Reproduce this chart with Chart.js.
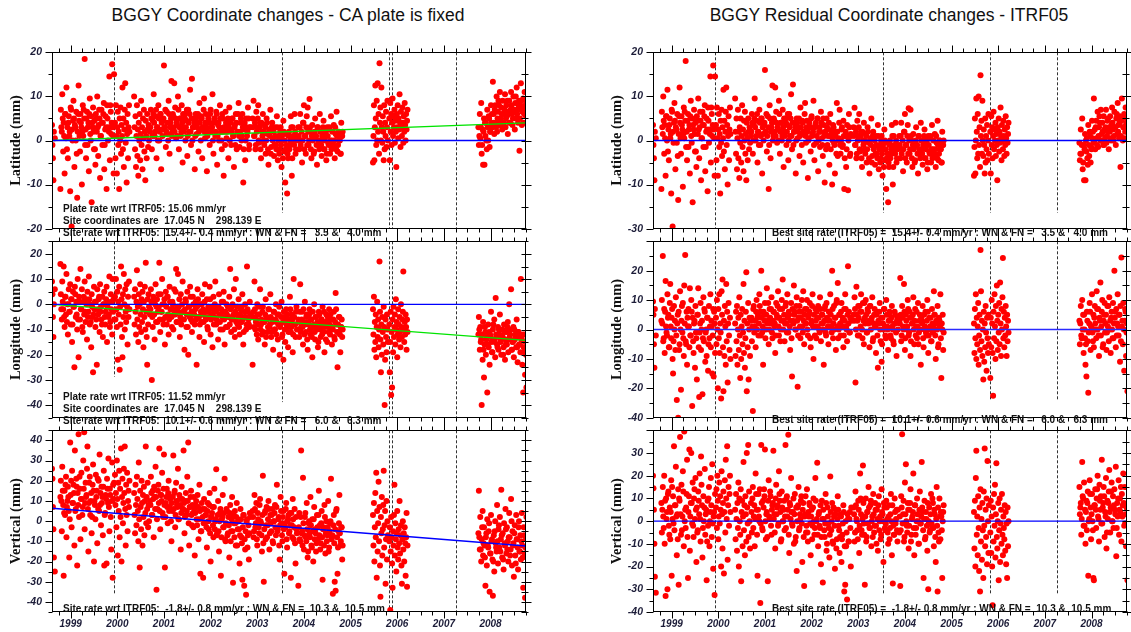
<!DOCTYPE html>
<html>
<head>
<meta charset="utf-8">
<script src="https://cdn.jsdelivr.net/npm/chart.js@4.4.1/dist/chart.umd.min.js"></script>
<style>
body{margin:0;background:#fff;width:1131px;height:632px;overflow:hidden;position:relative}
.ttl{position:absolute;top:5px;line-height:20px;font:17.5px "Liberation Sans",Arial,sans-serif;color:#111;white-space:nowrap;transform:translateX(-50%)}
</style>
</head>
<body>
<div class="ttl" style="left:288px">BGGY Coordinate changes - CA plate is fixed</div>
<div class="ttl" style="left:889px">BGGY Residual Coordinate changes - ITRF05</div>
<script>
// epochs in hundredths of a year after 1998.0, one array per block of days
var epochs = [
  [60,61,62,63,64,66],
  [78,79,81,82,84,85,87,88,90,91,93,94,96,
   97,99,100,102,103,105,106,108,109,111,112,114,115,
   117,118,120,121,123,124,126,127,129,130,132,133,135,
   136,138,139,141,142,144,145,147,148,150,151,153,154,
   156,157,159,160,162,163,165,166,168,169,171,172,174,
   175,177,178,180,181,183,184,186,187,189,190,192,193],
  [195,196,197,198,199,200,201,202,203,204,205,206,207,208,209,210,
   211,212,213,214,215,216,217,218,219,220,221,222,223,224,225,226],
  [236,237,238,239,240,241,242,243,244,245,246,
   247,248,249,250,251,252,253,254,255,256,257,
   258,259,260,261,262,263,264,265,266,267,268],
  [270,272,274,276,278,280,282,284,286,288,290,292,
   294,296,298,300,302,304,306,308,310,312,314,316,
   318,320,322,324,326,328,330,332,334,336,338,340,
   342,344,346,348,350,352,354,356,358,360,362,364,
   366,368,370,372,374,376,378,380,382,384,386,388,
   390,392,394,396,398,400,402,404,406,408,410,412,
   414,416,418,420,422,424,426,428,430,432,434,436,
   438,440,442,444,446,448,450,452,454,456,458,460,
   462,464,466,468,470,472,474,476,478,480,482,484],
  [490,492,494,496,498,500,502,504,506,508,510,512,
   514,516,518,520,522,524,526,528,530,532,534,536,
   538,540,542,544,546,548,550,552,554,556,558,560,
   562,564,566,568,570,572,574,576,578,580,582,584],
  [588,590,592,594,596,598,600,602,604,606,608,610,
   612,614,616,618,620,622,624,626,628,630,632,634,
   636,638,640,642,644,646,648,650,652,654,656,658,
   660,662,664,666,668,670,672,674,676,678,680,682],
  [748,749,750,751,752,753,754,755,756,757,758,
   759,760,761,762,763,764,765,766,767,768,769,
   770,771,772,773,774,775,776,777,778,779,780],
  [783,784,785,786,787,788,789,790,791,792,
   793,794,795,796,797,798,799,800,801,802,
   803,804,805,806,807,808,809,810,811,812,
   813,814,815,816,817,818,819,820,821,822],
  [974,975,977,978,980,981,983,984,986,987,
   989,990,992,993,995,996,998,999,1001,1002,
   1004,1005,1007,1008,1010,1011,1013,1014,1016,1017,
   1019,1020,1022,1023,1025,1026,1028,1029,1031,1032,
   1034,1035,1037,1038,1040,1041,1043,1044,1046,1047,
   1049,1050,1052,1053,1055,1056,1058,1059,1061,1062,
   1064,1065,1067,1068,1070,1071,1073,1074,1076,1077],
  [80,83,86,89,92,95,98,101,104,107,110,113,116,119,122,125,128,131,134,
   137,140,143,146,149,152,155,158,161,164,167,170,173,176,179,182,185,188,191],
  [271,273,275,277,279,281,283,285,287,289,291,293,
   295,297,299,301,303,305,307,309,311,313,315,317,
   319,321,323,325,327,329,331,333,335,337,339,341,
   343,345,347,349,351,353,355,357,359,361,363,365,
   367,369,371,373,375,377,379,381,383,385,387,389,
   391,393,395,397,399,401,403,405,407,409,411,413,
   415,417,419,421,423,425,427,429,431,433,435,437,
   439,441,443,445,447,449,451,453,455,457,459,461,
   463,465,467,469,471,473,475,477,479,481,483,485],
  [491,493,495,497,499,501,503,505,507,509,511,513,
   515,517,519,521,523,525,527,529,531,533,535,537,
   539,541,543,545,547,549,551,553,555,557,559,561,
   563,565,567,569,571,573,575,577,579,581,583,585],
  [589,591,593,595,597,599,601,603,605,607,609,611,
   613,615,617,619,621,623,625,627,629,631,633,635,
   637,639,641,643,645,647,649,651,653,655,657,659,
   661,663,665,667,669,671,673,675,677,679,681,683],
  [976,979,982,985,988,991,994,997,1000,1003,1006,1009,1012,1015,1018,1021,1024,
   1027,1030,1033,1036,1039,1042,1045,1048,1051,1054,1057,1060,1063,1066,1069,1072,1075]
];

// CA plate fixed (left column), mm
var latFixed = [
  [3.5,-1,-4,-9,2,0.5],
  [-11,7,2,10.5,-2.5,4,-7.5,6,0.5,12,3,-4,5.5,
   1,-11.5,7.5,-19.5,2.5,4.5,9,-6,3.5,0,6.5,-13,2,
   12.5,4.5,-2.5,6,3,-10,8,1,5,18.5,2.5,-4,6.5,
   -1,4,-7,9.5,1.5,5.5,-14,3,7.5,-2,4.5,-5.5,6,
   2,10,-3.5,3.5,5,-8.5,1,7,-1,4,8.5,-6.5,2.5,
   5.5,-11,8,0,3,14.5,-4.5,6.5,1.5,17.3,3,-7.5,15],
  [4,-4,8,1,-7.5,3,6.5,-1,2,-11,5,0,7.5,-3,3.5,1,
   12,-2,5,-6,2.5,7,13,-0.5,4,-9.5,1.5,6,-4,3,8,2],
  [10,3,-2,5.5,-6,1,8,-3.5,2.5,-8,4,
   0,6,-4.5,1.5,9,-1,3,-6.5,5,0.5,7,
   -2.5,2,-9,4.5,1,-4,6,2.5,-1.5,3.5,0],
  [2,7,-2,4.5,10.5,1,5.5,-4,3,8,0,6,
   -6.5,2.5,4.5,17,3,-1.5,6.5,1.5,9,-3,4,13.5,
   2,5.5,13,7.5,0.5,3.5,10,-2,5,1,8,-5,
   3,6,0,4.5,-3.5,7,2,11.5,-1,14,3,5,
   -6.5,6,1.5,4,-2.5,8.5,2.5,5.5,-4,3,9.5,0.5,
   6,-7,2,4.5,-1,7,3,10.5,-3,5,1,6.5,
   -5.5,3.5,0,8,2,-2,5,-8,3,6.5,0.5,4,
   -4,7.5,2.5,-1,5,1,-6,3.5,6,-2,2,8.5,
   -1.5,4,0,6,-9.5,2.5,-4.5,5,1,7.5,-2,3],
  [5,9,1,-2,6.5,3,8,-0.5,4,-4,2,6,
   0,3.5,-3,5,1.5,-5.5,2.5,7,-1.5,4,0.5,-3.5,
   3,-1,5.5,-4.5,1,-2,3,-6,0,4.5,-2.5,-9.5,
   1.5,-12,-4,2,-1,5.5,-8,3,0,6,-3,1],
  [3,-2,6,0,-5,4,8,1,-3,5.5,7.5,-1,
   9.4,2,-4,3.5,0.5,-2.5,5,1,-5.5,3,-1,6,
   0,-3.5,2,4.5,-2,1,-4.5,3,-0.5,2.5,-3,5.5,
   0,-1.5,3.5,-4,1.5,6.5,-2.5,2,0,-3,4,1],
  [-5,1,8,-4.5,3,12.5,5,-1,9,0,13,
   2,6,-3,17.5,4,7.5,0,12,3,-0.5,5.5,
   2,-4.5,8,-2,4,1,6.5,-1.5,3,9,0],
  [5,-4.5,8.5,2,6,-1,4,9.5,1,5.5,
   3,7,-0.5,4.5,2,-6,6,3,8,0.5,
   5,2.5,10.5,4,-1.5,6.5,3,1,7.5,4,
   -0.5,5.5,2,8.5,3.5,0,6,2.5,4.5,7],
  [3,-1,6,0.5,8.5,-3,2.5,-5.5,5,-5.5,
   1,4,-2,7,0,5.5,-1.5,2,8,4,
   3,13.3,6,1.5,8,4,10,2,6.5,9,
   3.5,11,5,7.5,2.5,9,6,4,10.5,3,
   8,5.5,1.5,6.5,9,4,7,11,6,3.5,
   10,6.5,2.5,8.5,5,12,7,4,9,-2.3,
   8,13,3.5,6.5,9.5,4,11,7,5.5,8.5],
  [3,5,1,6,-2,4,2,7,0,5,3,-3,6,1,4,2,7,-1,5,3,6,0,4,2,-2,5,3,7,1,4,6,-1,3,5,2,8,4,1],
  [3,5,1,6,4,2,7,3,0,5,2,6,
   4,1,5,3,7,2,4,0,6,3,5,1,
   6,3,2,5,4,1,7,3,5,2,4,6,
   2,5,3,7,1,4,6,2,5,0,3,4,
   1,5,3,6,2,4,0,5,3,7,2,4,
   3,1,5,4,6,2,3,0,4,5,2,6,
   1,4,3,5,0,6,2,3,-1,4,2,5,
   3,0,4,2,5,1,3,-1,4,2,6,1,
   2,5,1,3,-2,4,0,3,2,5,-1,3],
  [3,1,4,-1,2,5,0,3,-2,4,1,2,
   -1,3,0,4,-2,2,1,-3,3,0,2,-1,
   1,-2,3,0,-3,2,-1,1,-4,2,0,-2,
   -1,-3,1,-2,0,3,-4,1,-1,2,-2,0],
  [1,3,-1,2,0,4,-2,1,3,-1,2,0,
   3,-2,1,0,-3,2,1,-1,3,0,-2,2,
   -1,1,3,-2,0,2,-3,1,-1,3,0,-2,
   2,-1,0,3,-2,1,-1,2,0,-3,1,2],
  [1,3,-1,2,4,0,3,5,2,6,4,7,3,5,8,4,6,3,7,5,9,6,4,8,5,7,10,6,8,5,9,7,6,8]
];

var lonFixed = [
  [9,4,-5,-13,0,6],
  [16,4,-6,9,-2,15,-9,3,-4,12,0,-12,6,
   -3,8,-8,2,-15,5,-1,-25,7,-5,1,-10,10,
   -21,3,-6,14,-2,6,-11,1,-4,9,-7,2,-14,
   5,-3,11,-8,0,-17,4,-5,-27,7,-2,-9,1,
   -24,6,-4,2,-11,8,-1,-6,3,-13,0,5,-8,
   -3,7,-15,1,-5,11,-9,4,-2,-12,10,2,-6],
  [3,-6,10,-2,-9,5,-22,1,-4,7,-26,-1,-8,15,2,-13,
   -21,4,-5,12,0,-10,6,-3,-7,8,-1,-16,3,-5,9,-2],
  [3,-8,6,-3,-12,1,13.5,-6,-1,-15,4,
   -9,0,8,-4,-11,2,-7,5,-2,-17,1,
   -5,7,-10,16.5,-3,-13,-24,2,-8,4,-1],
  [-4,6,-30,-9,2,-14,8,-1,-7,4,16.5,-11,
   -3,10,-6,0,-16,5,-8,3,-12,7,-2,-5,
   1,-10,6,-4,14,-7,12,-1,-13,4,-6,9,
   -3,-18,2,-9,5,-20,-1,7,-6,-11,3,-4,
   -8,1,-24,6,-5,-13,0,-7,4,-2,-15,8,
   -6,2,-10,-3,7,-12,-1,-17,3,-5,9,-8,
   -2,-14,4,-7,-4,1,-10,5,-16,-3,0,-9,
   -5,3,14,-11,-1,-6,6,-13,10,-4,-8,2,
   -12,-2,-7,4,-16,-5,0,-10,15,-3,-8,1],
  [-24,-3,9,-10,-6,0,-14,-4,6,-8,-12,-1,
   -7,-16,2,-5,-11,-2,-9,4,-13,-6,-18,-3,
   -10,0,-7,-14,-4,-20,-8,1,-12,-22,-5,-15,
   -2,-9,-17,-6,3,-11,-4,-19,10,-8,-13,-1],
  [-6,-13,8,-9,-3,-16,-7,1,-11,-4,-18,-8,
   -2,-12,-6,-21,-9,0,-14,-5,-10,-17,-3,-8,
   -13,-6,-1,-11,-19,-7,-4,-15,-9,-2,-12,-6,
   -16,-10,-3,-14,4.5,-8,-25,-11,-5,-19,-9,-13],
  [-2,-12,3,-18,-7,-15,-4,-21,-9,1,-13,
   -6,-17,-10,17,-3,-14,-27,-8,-20,-5,-11,
   -16,-1,-9,-40,-22,-6,-13,-19,-4,-10,-15],
  [-8,-27,-15,-3,-36,-11,-33,-6,-19,-1,
   -13,-9,-4,-16,2,-10,-7,-21,-12,-2,
   -8,-14,-5,-11,-17,0,-9,-13,-6,-3,
   13,-10,-15,-7,-12,-4,-9,-18,-6,-11],
  [-12,-5,-18,-9,-14,-40,-22,-7,-29,-16,
   -11,-20,-13,-35,-8,-17,-24,-12,-3,-15,
   -19,-10,-14,-6,-21,2.5,-13,-16,-9,-18,
   -12,-4,-15,-20,-10,-13,-17,-8,-22,-14,
   -11,-16,-7,-19,0,-13,-10,6,-18,-15,
   -9,-21,-14,-12,-17,-6,-23,-11,-16,-13,
   -19,10,-14,-24,-35,-17,-12,-28,-20,-33],
  [-2,1,-5,3,-7,0,-3,2,-8,-1,4,-4,-6,1,-2,-9,3,-3,0,-5,2,-7,-1,-4,1,-6,-2,3,-3,-8,0,-5,2,-1,-4,-7,1,-3],
  [-2,1,-5,3,-4,0,-7,2,-3,-1,-6,4,
   -3,0,-8,2,-5,-1,3,-4,-6,1,-2,-9,
   0,-4,-2,5,-7,-1,-3,2,-5,-8,0,-3,
   -6,-2,1,-4,-9,-1,-5,3,-3,-7,0,-4,
   -2,-6,-1,2,-5,-8,-3,0,-4,-7,1,-5,
   -3,-9,-1,-5,2,-6,-4,-2,-8,0,-3,-6,
   -7,-1,-4,-10,-2,-5,1,-6,-3,-9,-4,-1,
   -5,-8,-2,-6,0,-4,-10,-3,-7,-1,-5,-9,
   -4,-7,-1,-6,-11,-3,-5,-8,-2,-6,-9,-4],
  [-5,-9,-2,-7,-12,-4,-8,-1,-10,-6,-3,-11,
   -7,-4,-13,-6,-9,-2,-8,-5,-11,-7,-3,-10,
   -6,-12,-4,-8,-1,-9,-5,-13,-7,-3,-10,-6,
   -8,-4,-11,-7,-2,-9,-6,-12,-5,-8,-3,-10],
  [-7,-3,-11,-6,-9,-2,-12,-8,-5,-14,-7,-4,
   -10,-6,-13,-3,-8,-11,-5,-9,-7,-15,-4,-10,
   -6,-12,-8,-3,-9,-14,-7,-5,-11,-8,-4,-10,
   -9,-6,-13,-7,-2,-11,-8,-5,-12,-9,-6,-10],
  [-10,-15,-12,-18,-9,-14,-16,-11,-13,-19,-8,-15,-12,-17,-10,-14,-13,-20,-11,-16,-9,-14,-12,-18,-15,-10,-13,-17,-11,-16,-14,-12,-19,-15]
];

var upFixed = [
  [26,21,7,-4,-18,-25],
  [12,20,-5,27,8,-27,15,3,22,-8,10,17,5,
   -18,39,13,-3,25,9,18,-12,35,6,21,-22,14,
   43,2,16,-9,24,11,7,30,44,-4,19,12,26,
   37,-15,9,22,3,14,-6,18,28,-20,10,1,23,
   15,-11,6,20,33,8,-2,17,12,-7,25,-22,4,
   13,-21,21,9,31,-5,16,2,-14,29,-28,11,19],
  [23,8,14,-3,30,11,-17,19,5,25,-8,16,2,36,-20,12,
   21,-1,9,26,14,37,6,-12,18,3,24,-5,10,15,7,20],
  [14,3,-6,18,8,-2,22,11,5,-10,29,
   1,-23,15,7,-4,20,9,-12,13,2,17,
   -7,10,4,37,-1,12,6,19,-3,8,0],
  [10,22,3,15,-8,12,27,-34,6,18,36,-4,
   13,24,2,33,-23,9,16,-1,20,7,12,-10,
   5,32.5,14,-3,19,8,26,1,11,-14,17,6,
   35,-6,10,3,22,39,-12,7,15,-2,4,12,
   -17,8,1,13,-9,18,-26,-5,6,-28,11,-1,
   3,-13,9,-4,14,-20,2,7,-8,16,0,25.7,
   -6,10,-15,4,-27,1,13,-3,21,-10,6,-7,
   2,-18,8,-5,12,-30.5,-1,5,-12,9,-4,0,
   -21,6,-8,-29,3,-32,-14,-36.5,1,-7,-19,4],
  [5,-8,13,-3,9,-12,1,-6,11,-1,-15,22.5,
   -30,4,-9,7,-2,10,-14,3,-5,6,-11,0,
   8,-7,18,-4,2,-19,12,-1,-10,5,-26,-3,
   9,-13,1,-6,4,-28,-2,11,-9,6,-21,-4],
  [-32,4,-10,35,-5,21.5,-14,2,-8,9,-18,-1,
   -6,12,-12,1,-20,7,-4,-15,3,-9,15,-2,
   -11,5,-29,-3,8,-16,0,-7,10,-13,-1,21,
   -8,-36,3,-30,-34.5,6,-26,-5,13,-12,-3,-19],
  [3,-12,9,-20,-3,14,-8,24,-28,5,-15,
   -1,19.5,-10,7,-22,-37.5,2,-6,12,-17,-4,
   8,25,-13,-2,5,-31,-9,10,-19,0,-7],
  [-10,-3,-44,-15,2,-8,-21,-33,-5,-12,
   3,18,-17,-1,-9,-25,-6,5,-13,-19,
   -4,-11,10,-16,-7,-2,-22,-31,-9,0,
   -14,-6,-20,-3,-11,-27,-8,4,-32.5,-12],
  [-6,15,-14,2,-20,-9,5,-17,-3,-12,
   -32,-8,-22,1,-13,-5,-35,-16,3,-10,
   -19,-37,-7,-25,0,-11,-15,8,-21,-4,
   -13,2,-9,15.5,-18,-6,-24,-1,-12,6,
   -16,-3,-10,-20,4,-8,-14,11,-22,-5,
   -11,-27.5,-2,-17,3,-9,-13,-24,0,-15,
   -7,-19,4,-12,-33,-3,-16,-38,-9,2],
  [10,15,4,18,7,12,1,20,9,14,5,17,8,22,11,3,16,9,13,6,19,10,2,15,8,12,21,5,14,9,17,3,11,16,7,13,10,18],
  [8,14,3,11,17,6,12,1,15,9,5,13,
   10,4,16,8,2,12,7,14,5,11,0,9,
   12,6,15,3,10,7,1,13,8,4,11,6,
   9,2,14,5,10,-1,7,12,3,8,-3,6,
   4,10,-2,7,1,5,-5,9,2,-1,6,3,
   -3,5,0,8,-6,2,4,-2,7,-4,1,-7,
   3,-5,0,6,-8,2,-3,4,-9,-1,5,-6,
   -2,4,-10,1,-5,3,-8,-1,2,-12,0,-4,
   -7,1,-11,-3,3,-9,-5,0,-13,-2,-6,2],
  [2,-5,6,-1,-9,4,-3,8,0,-7,3,-11,
   -4,5,-2,-8,1,6,-6,-1,3,-10,0,4,
   -3,7,-5,1,-12,-2,5,-7,2,-4,-1,6,
   -9,0,3,-5,-2,4,-8,1,-3,-11,2,-6],
  [-3,-9,2,-6,-12,-1,-7,4,-10,-4,-15,0,
   -8,-2,-13,-5,1,-9,-6,-11,-3,3,-7,-14,
   -1,-8,-4,-12,2,-6,-10,-3,-15,-5,0,-9,
   -7,-2,-11,-4,5,-8,-13,-1,-6,-10,-3,-12],
  [-8,-14,-3,-11,-18,-6,-12,-1,-16,-9,-20,-5,-13,-10,-2,-15,-7,-19,-11,-4,-14,-8,-17,0,-12,-6,-21,-9,-3,-15,-10,-18,-7,-13]
];

// residuals w.r.t. ITRF05 (right column), mm
var latResid = [
  [3.5,-1,-4,-9,2,0.5],
  [-11,6.5,1.5,10,-3,3.5,-8,5.5,0,11.5,2.5,-4.5,5,
   0.5,-12,7,-19.5,2,4,8.5,-6.5,3,-0.5,6,-13.5,1.5,
   12,4,-3,5.5,2.5,-10.5,7.5,0.5,4.5,18,2,-4.5,6,
   -1.5,3.5,-7.5,9,1,5,-14,2.5,7,-2.5,4,-6,5.5,
   1.5,9.5,-4,3,4.5,-9,0.5,6.5,-1.5,3.5,8,-7,2,
   5,-11.5,7.5,-0.5,2.5,14.5,-5,6,1,17,2.5,-8,14.5],
  [3.5,-4.5,7.5,0.5,-8,2.5,6,-1.5,1.5,-12,4.5,-0.5,7,-3.5,3,0.5,
   11.5,-2.5,4.5,-6.5,2,6.5,12,-1,3.5,-10,1,5.5,-4.5,2.5,7.5,1.5],
  [9.5,2,-3,5,-6.5,0.5,7,-4,2,-8.5,3,
   -0.5,5,-5,1,8,-1.5,2.5,-7,4.5,0,6.5,
   -3,1.5,-9,4,0.5,-4.5,5,2,-2,3,-0.5],
  [1,6,-3,3.5,9.5,0,4.5,-5,2,7,-1,5,
   -7.5,1.5,3.5,16,2,-2.5,5.5,-11,8,-4,3,12.5,
   1,4.5,12,6.5,-0.5,2.5,9,-3,4,0,7,-6,
   2,5,-1,3.5,-4.5,6,1,10.5,-2,12.7,2,4,
   -7.5,5,0.5,3,-3.5,7.5,1.5,4.5,-5,2,8.5,-0.5,
   4.5,-8.5,0.5,3,-2.5,5.5,1.5,9,-4.5,3.5,-0.5,5,
   -7,2,-1.5,6.5,0.5,-3.5,3.5,-9.5,1.5,5,-1,2.5,
   -5.5,6,1,-10,3.5,-0.5,-7.5,2,8.5,-3.5,0.5,7,
   -3,2.5,-1.5,4.5,-11,1,-6,3.5,-11.3,6,-3.5,1.5],
  [3,7.4,-1,-4,4.5,1,6,-2.5,2,-6,0,4,
   -2,1.5,-5,3,-0.5,-7.5,0.5,5,-3.5,2,-1.5,-5.5,
   1,-3,3.5,-6.5,-1,-4,1,-8,-2,2.5,-4.5,-11,
   -0.5,-14,-6,0,-3,3.5,-10,1,-2,4,-5,-1],
  [1,-4,4,-2,-7,2,6,-1,-5,3.5,7.3,-3,
   7,0,-6,1.5,-1.5,-4.5,3,-1,-7.5,1,-3,4,
   -2,-5.5,0,2.5,-4,-1,-6.5,1,-2.5,0.5,-5,3.5,
   -2,-3.5,1.5,-6,-0.5,4.5,-4.5,0,-2,-5,2,-1],
  [-8,-1.5,5,-7.5,0,9.5,2,-4,6,-3,10,
   -1,3,-6,14.8,1,4.5,-3,9,0,-3.5,2.5,
   -1,-7.5,5,-5,1,-2,3.5,-4.5,0,6,-3],
  [2,-7.5,5.5,-1,3,-4,1,6.5,-2,2.5,
   0,4,-3.5,1.5,-1,-9,3,0,5,-2.5,
   2,-0.5,7.5,1,-4.5,3.5,0,-2,4.5,1,
   -3.5,2.5,-1,5.5,0.5,-3,3,-0.5,1.5,4],
  [-0.5,-4.5,2.5,-3,5,-6.5,-1,-9,1.5,-9,
   -2.5,0.5,-5.5,3.5,-3.5,2,-5,-1.5,4.5,0.5,
   -0.5,9.5,2.5,-2,4.5,0.5,6.5,-1.5,3,5.5,
   0,7,1.5,4,-1,5.5,2.5,0.5,7,-0.5,
   4.5,2,-2,3,5.5,0.5,3.5,7.5,2.5,0,
   6.5,3,-1,5,1.5,8.5,3.5,0.5,5.5,-6,
   4.5,9.5,0,3,6,0.5,7.5,3.5,2,5],
  [3,4.5,0.5,5.5,-2.5,3.5,1.5,6.5,-0.5,4.5,2.5,-3.5,5.5,0.5,3.5,1.5,6.5,-1.5,4.5,2.5,5.5,-0.5,3.5,1.5,-2.5,4.5,2.5,6.5,0.5,3.5,5.5,-1.5,2.5,4.5,1.5,7.5,3.5,0.5],
  [2,4,0,5,3,1,6,2,-1,4,1,5,
   3,0,4,2,6,1,3,-1,5,2,4,0,
   5,2,1,4,3,0,6,2,4,1,3,5,
   1,4,2,6,0,3,5,1,4,-1,2,3,
   0,4,2,5,1,3,-1,4,2,6,1,3,
   2,0,4,3,5,1,2,-1,3,4,1,5,
   0,3,2,4,-1,5,1,2,-2,3,1,4,
   1,-2,2,0,3,-1,1,-3,2,0,4,-1,
   0,3,-1,1,-4,2,-2,1,0,3,-3,1],
  [1,-1,2,-3,0,3,-2,1,-4,2,-1,0,
   -3,1,-2,2,-4,0,-1,-5,1,-2,0,-3,
   -1,-4,1,-2,-5,0,-3,-1,-6,0,-2,-4,
   -3,-5,-1,-4,-2,1,-6,-1,-3,0,-4,-2],
  [-1,1,-3,0,-2,2,-4,-1,1,-3,0,-2,
   1,-4,-1,-2,-5,0,-1,-3,1,-2,-4,0,
   -3,-1,1,-4,-2,0,-5,-1,-3,1,-2,-4,
   0,-3,-2,1,-4,-1,-3,0,-2,-5,-1,0],
  [-3,-1,-5,-2,0,-4,-1,1,-2,2,0,3,-1,1,4,0,2,-1,3,1,5,2,0,4,1,3,6,2,4,1,5,3,2,4]
];

var lonResid = [
  [9.5,5,-5,-13,7,-2],
  [3,10,25,-4,7,-8,16.5,1,-2,12,5,-6,9,
   15.5,-3,4,-10,-15,8,0,-7,11,-24,2,-30,6,
   -5,13,-20.5,3,-1,9,-9,15,25.3,-4,6,-12,1,
   7,-6,14,-2,10,-26,4,-8,2,-13,8,-3,-17,
   5,14,-23,-1,9,-7,3,-22,11,-4,6,-11,0,
   -9,4,-14,8,-3,12,-6,1,-15,7,-16,2,-8],
  [4,-5,10,0,-20,7,-3,12,-8,2,-1,-23.5,13,5,17,-6,
   -21,3,-9,8,1,-12,15.5,-4,6,-18,2,9,-2,-7,4,-10],
  [2,-9,6,-4,8,-12,0,4,-7,11,-2,
   -16.5,5,-10,1,7,-5,-1,15.5,-8,3,-13,
   -3,6,19.5,-21,2,-6,9,-17,0,4,-9],
  [3,-4,-27.7,8,1,-6,10,4,-2,12,6,20,
   -1,-12,5,9,0,14,3,-5,7,2,11,-3,
   6,1,-8,9,4,13,-2,7,0,10,17,3,
   -4,8,2,12,-1,5,-7,9,-16,3,15,6,
   0,11,-19.5,4,8,-3,6,1,13,-5,7,2,
   10,-2,5,9,-6,3,12,-10,1,7,-3,4,
   8,0,11,-4,5,2,-12,7,-1,9,3,-5,
   6,12,1,20,-3,8,4,-7,10,15.8,0,5,
   -2,9,3,-6,7,12,1,-4,21.5,6,-1,4],
  [5,11,-18,14.5,3,8,-2,6,12,0,9,-5,
   4,10,-1,7,2,-6,8,3,11,-3,5,1,
   -8,6,-13,2,9,-4,-11,4,0,7,-2,10,
   1,-7,5,3,-3,8,0,-5,6,2,-9,4],
  [3,17.5,-4,8,1,15.5,-7,5,0,10,-2,6,
   -9,4,2,11,-5,7,1,-3,9,-1,5,-12,
   3,8,-6,0,6,-2,10,-8,4,1,-4,7,
   -1,13,5,-10,2,8,-5,3,12,-16.5,0,-7],
  [2,-8,7,-3,12,-10,4,-5,1,9,-12,
   -2,5,-7,27,13,-4,3,-9,0,-17,6,
   -11,2,-6,8,-1,-14,4,-3,-8,5,-5],
  [-16.5,4,-6,10,2,-8,-22.5,6,-3,12,
   1,-10,8,-4,15,3,-7,5,-1,9,
   -5,16,2,-9,7,0,11,24.3,-3,6,
   -6,4,-2,8,1,-9,5,-4,3,-1],
  [3,-5,8,-2,10,0,-8,5,-3,-12,
   -16,6,-4,-21.5,2,9,-7,1,12,-1,
   5,-6,8,2,-3,13,0,7,-9,4,
   16,-2,6,10,-5,3,9,-1,5,-7,
   8,1,-4,11,3,-8,6,0,9,-3,
   20,4,-6,7,2,12,-2,5,-11,8,
   24.5,1,-5,9,-14,3,6,-9,2,-21],
  [2,-3,6,-1,4,-6,1,7,-4,3,-2,5,-7,0,8,-3,2,-5,4,1,-2,6,-4,3,-1,5,-6,2,0,-3,7,-1,4,-5,1,3,-2,6],
  [4,1,7,-1,3,6,0,5,2,8,-2,4,
   1,6,3,-3,5,2,9,0,4,7,-1,3,
   6,2,-2,5,8,1,4,-4,3,7,0,5,
   2,9,-1,4,6,1,3,-3,7,2,5,0,
   8,3,-2,6,1,4,10,-1,3,5,2,7,
   0,4,6,-3,2,8,1,5,-2,3,6,1,
   4,-1,7,2,5,0,3,8,-2,4,1,6,
   3,5,-1,7,2,0,4,9,1,-3,5,2,
   6,1,4,-2,3,7,0,5,2,-1,4,3],
  [3,7,0,5,-2,4,8,1,6,-3,3,9,
   2,5,-1,6,3,8,0,4,-4,2,7,1,
   5,-2,3,6,0,4,-5,2,7,1,-3,5,
   0,3,6,-2,4,1,-4,2,5,-1,3,0],
  [2,5,-2,4,0,6,-3,3,1,7,-1,4,
   -4,2,5,0,3,-2,6,1,-5,3,0,4,
   2,-3,5,1,-1,3,6,-2,0,4,-4,2,
   1,5,-2,3,0,-6,4,1,-3,2,5,-1],
  [2,-3,5,0,-5,3,-1,6,1,-4,4,0,7,-2,3,1,-6,5,2,-1,8,0,4,-3,2,6,-2,1,5,-4,3,0,7,-1]
];

var upResid = [
  [20,14.5,5,-10,-24.5,-31.5],
  [8,-5,15,2,20,-10,-33,10,4,-30,13,-2,6,
   -8,18,-24,1,11,33,-4,7,24,-15,3,14,-28,
   9,37,-6,16,2,22,-11,39.5,5,-3,12,27,-25,
   4,31.5,-13,8,30,-1,17,-7,10,1,19,-18,6,
   -4,13,3,21,-9,28.5,7,-16,11,0,23,-6,5,
   -26,9,-2,15,-11,4,19,-7,25,-21,2,-32.5,12],
  [6,14,-3,20,9,-8,2,17,-1,11,5,-20,22,3,-12,8,
   13,-23,4,18,-5,27,10,1,33,-17,7,15,-2,12,20,4],
  [5,-8,12,1,-13,8,-3,17,-20,10,0,
   -6,14,-26.5,4,9,-11,2,26,-4,7,-15,
   11,3,-9,30,6,-1,33.5,-7,13,0,-12],
  [8,-5,15,2,-11,21,5,-24,12,0,-36,33.5,
   -3,9,14,31.5,-8,4,-26.5,18,1,11,-6,7,
   31,3,-12,16,6,-2,22,9,-9,13,0,5,
   -4,33.5,10,2,38,-14,7,19,-1,4,-10,12,
   -7,-22,6,15,-3,1,11,-18,8,-28.5,3,-5,
   14,-9,2,7,-15,5,-2,10,-6,19,0,25.7,
   -11,4,-3,-19,9,-27,1,-7,12,-13,6,-1,
   -16,19.7,-4,8,-10,2,-21,5,-8,11,-2,-14,
   3,-18,-6,7,-31,-28,-11,-34.5,1,-9,4,-20],
  [6,-9,13,1,-4,9,-14,21,3,-6,24.5,-1,
   -28,10,-7,4,15,-3,7,-11,2,12,-5,8,
   -2,5,-13,11,0,-8,14,3,-18,6,-4,9,
   1,-10,7,-3,12,-15,-27.5,-6,10,-1,5,-9],
  [-5,-28.5,11,38.3,3,-9,17,25,-2,8,-12,5,
   14,-6,2,21,-15,7,-3,10,0,-10,13,-1,
   26,4,-25,9,-7,1,-13,-30,6,-4,12,-2,
   8,-11,3,-18,15,-31,-5,10,-8,2,-25,4],
  [4,-12,9,-20,19,31,-6,2,-15,11,-3,
   -22,6,-31,14,-9,1,-17,8,-4,-25,13,
   -2,32,-11,5,-7,10,-19,26.5,0,-14,7],
  [-5,9,-14,2,-20,-37,6,-9,12,-2,
   16,-16,3,25.5,-7,-12,0,8,-26,-4,
   10,-18,-1,5,-10,12,-6,-15,2,-3,
   -8,7,-13,4,-19,-1,-25,6,-11,0],
  [15,3,8,-6,26,11,-2,17,5,-10,
   9,-4,13,-24,1,18,6,-8,12,0,
   -25,-26,7,14,-3,10,20,2,-9,16,
   5,11,27,-1,8,15,-7,4,19,-12,
   9,1,13,22.5,-5,6,17,0,11,-3,
   14,5,24,-15.5,8,2,18,-6,10,4,
   -9,12,7,21,-2,15,3,-11,6,-26],
  [5,-3,9,1,12,-6,4,15,-1,7,2,-8,10,3,-4,13,0,6,-7,11,2,8,-2,14,5,-5,9,1,16,-3,6,3,-9,10,0,7,-1,4],
  [4,10,-3,7,1,12,-6,5,2,14,-1,8,
   -4,6,11,0,3,-7,9,2,13,-2,5,8,
   1,-5,10,3,7,-1,12,4,-8,6,0,9,
   2,-3,11,5,-6,8,1,4,-2,10,3,-9,
   6,0,7,-4,3,9,-1,5,-7,2,11,-2,
   -5,4,8,-1,2,-8,6,0,-3,9,1,-6,
   3,-2,7,-7,1,5,-4,-1,8,-10,2,-3,
   -6,4,0,-9,6,-2,3,-12,1,5,-4,-7,
   2,-8,-1,4,-11,0,-5,3,-9,1,-3,6],
  [3,-5,7,0,-8,5,-2,10,-4,1,8,-6,
   2,-9,4,-1,6,-3,9,0,-7,3,-2,5,
   -10,1,7,-4,2,-6,4,0,8,-3,-1,6,
   -5,2,-8,3,0,7,-2,-6,4,1,-4,5],
  [2,-4,6,-1,9,-7,3,0,-5,5,-2,8,
   -9,1,4,-3,7,-6,0,3,-10,5,-1,2,
   6,-4,1,-8,4,-2,8,0,-5,3,-1,10,
   -3,5,-7,1,-2,6,-9,2,4,-4,0,7],
  [6,1,10,-2,4,8,0,12,3,-4,7,5,14,1,9,-1,6,11,2,-5,8,4,13,0,7,3,-3,10,5,15,2,8,-1,6]
];

// model lines: value at the first and last epoch of the plot
var xMin = 1998.6, xMax = 2008.76;
var zeroLine = [0, 0];
var latPlateLine = [0, 4.0];
var lonPlateLine = [0, -14.3];
var upTrendLine = [6.4, -12.3];
var breakEpochs = [1999.92, 2003.52, 2005.83, 2007.26];
var yearTicks = [1999, 2000, 2001, 2002, 2003, 2004, 2005, 2006, 2007, 2008];
var yearLabels = ['1999', '2000', '2001', '2002', '2003', '2004', '2005', '2006', '2007', '2008'];
var latTicks = [20, 10, 0, -10, -20];
var lonTicksFixed = [20, 10, 0, -10, -20, -30, -40];
var upTicksFixed = [40, 30, 20, 10, 0, -10, -20, -30, -40];
var lonTicksResid = [20, 10, 0, -10, -20, -30];
var upTicksResid = [30, 20, 10, 0, -10, -20, -30, -40];

var rowTop = [46, 235, 424], rowBottom = [235, 424, 612], colLeft = [0, 601];
var labelColor = '#1c1c38';
Chart.defaults.font.family = '"Liberation Sans", Arial, sans-serif';

function toPoints(series) {
  var out = [];
  series.forEach(function(seg, i) {
    seg.forEach(function(v, j) {
      if (epochs[i] && epochs[i][j] !== undefined) out.push({x: 1998 + epochs[i][j] / 100, y: v});
    });
  });
  return out;
}

var frame = {
  id: 'frame',
  beforeDatasetsDraw: function(chart, args, o) {
    var ctx = chart.ctx, a = chart.chartArea, x = chart.scales.x, y = chart.scales.y;
    ctx.save();
    ctx.strokeStyle = '#333'; ctx.lineWidth = 1; ctx.setLineDash([3, 2]);
    breakEpochs.forEach(function(e, i) {
      var end = o.breakEnds[i] === null ? y.min : o.breakEnds[i];
      var bottom = y.getPixelForValue(end);
      var offs = (o.dbl && i === 2) ? [0, 2.5] : [0];
      offs.forEach(function(d) {
        var px = Math.round(x.getPixelForValue(e) + d) + 0.5;
        ctx.beginPath(); ctx.moveTo(px, a.top); ctx.lineTo(px, bottom); ctx.stroke();
      });
    });
    ctx.restore();
  },
  afterDatasetsDraw: function(chart, args, o) {
    var ctx = chart.ctx, a = chart.chartArea, x = chart.scales.x, y = chart.scales.y;
    ctx.save();
    ctx.strokeStyle = '#000'; ctx.lineWidth = 1;
    var L = Math.round(a.left) + 0.5, R = Math.round(a.right) - 0.5;
    var T = Math.round(a.top) + 0.5, B = Math.round(a.bottom) - 0.5;
    ctx.strokeRect(L, T, R - L, B - T);
    ctx.beginPath();
    for (var q = Math.ceil(x.min * 4); q <= Math.floor(x.max * 4); q++) {
      var px = Math.round(x.getPixelForValue(q / 4)) + 0.5;
      var len = q % 4 === 0 ? 7 : 4;
      ctx.moveTo(px, T); ctx.lineTo(px, T - len);
      ctx.moveTo(px, B); ctx.lineTo(px, B + len);
    }
    for (var v = Math.ceil(y.min / 5) * 5; v <= y.max; v += 5) {
      var py = Math.round(y.getPixelForValue(v)) + 0.5;
      var major = v % 10 === 0;
      ctx.moveTo(L, py); ctx.lineTo(L - (major ? 7 : 4), py);
      ctx.moveTo(R - 4, py); ctx.lineTo(R + (major ? 6 : 3), py);
    }
    ctx.stroke();
    ctx.fillStyle = '#111';
    ctx.font = 'bold 10px "Liberation Sans", Arial, sans-serif';
    ctx.textBaseline = 'middle';
    o.notes.forEach(function(n) { ctx.fillText(n[0], a.left + o.noteX, a.top + n[1]); });
    ctx.restore();
  }
};

var panels = [
  {col: 0, row: 0, title: 'Latitude (mm)', range: [-20, 20], ticks: latTicks, labels: {},
   series: latFixed, lines: [[zeroLine, '#0000ff'], [latPlateLine, '#00e400']],
   breakEnds: [-11, -16.4, null, null], dbl: true, noteX: 11,
   notes: [['Plate rate wrt ITRF05: 15.06 mm/yr', 156.5],
           ['Site coordinates are  17.045 N    298.139 E', 168.5],
           ['Site rate wrt ITRF05:  15.4+/- 0.4 mm/yr : WN & FN =   3.5 &   4.0 mm', 180.5]]},
  {col: 0, row: 1, title: 'Longitude (mm)', range: [-45, 25], ticks: lonTicksFixed, labels: {},
   series: lonFixed, lines: [[zeroLine, '#0000ff'], [lonPlateLine, '#00e400']],
   breakEnds: [-28.8, -38.8, null, null], dbl: true, noteX: 11,
   notes: [['Plate rate wrt ITRF05: 11.52 mm/yr', 155.5],
           ['Site coordinates are  17.045 N    298.139 E', 168],
           ['Site rate wrt ITRF05:  10.1+/- 0.6 mm/yr : WN & FN =   6.0 &   6.3 mm', 179.5]]},
  {col: 0, row: 2, title: 'Vertical (mm)', range: [-45, 45], ticks: upTicksFixed, labels: {},
   series: upFixed, lines: [[upTrendLine, '#0000ff']],
   breakEnds: [-36.5, -36.5, null, null], dbl: true, noteX: 11,
   notes: [['Site rate wrt ITRF05:  -1.8+/- 0.8 mm/yr : WN & FN =  10.3 &  10.5 mm', 179]]},
  {col: 1, row: 0, title: 'Latitude (mm)', range: [-20, 20], ticks: latTicks, labels: {'-20': '-30'},
   series: latResid, lines: [[zeroLine, '#0000ff']],
   breakEnds: [null, -16.4, -16.4, -16.4], dbl: false, noteX: 119,
   notes: [['Best site rate (ITRF05) =  15.4+/- 0.4 mm/yr : WN & FN =   3.5 &   4.0 mm', 180.7]]},
  {col: 1, row: 1, title: 'Longitude (mm)', range: [-30, 30], ticks: lonTicksResid, labels: {'-30': '-40'},
   series: lonResid, lines: [[zeroLine, '#2a2aff']],
   breakEnds: [null, -24.1, -24.1, -24.1], dbl: false, noteX: 119,
   notes: [['Best site rate (ITRF05) =  10.1+/- 0.6 mm/yr : WN & FN =   6.0 &   6.3 mm', 179.3]]},
  {col: 1, row: 2, title: 'Vertical (mm)', range: [-40, 40], ticks: upTicksResid, labels: {},
   series: upResid, lines: [[zeroLine, '#0000ff']],
   breakEnds: [null, -32.6, -32.6, -32.6], dbl: false, noteX: 119,
   notes: [['Best site rate (ITRF05) =  -1.8+/- 0.8 mm/yr : WN & FN =  10.3 &  10.5 mm', 179.3]]}
];

function build(p) {
  var last = p.row === 2;
  var cv = document.createElement('canvas');
  cv.width = 535;
  cv.height = rowBottom[p.row] - rowTop[p.row] + 10 + (last ? 20 : 10);
  cv.style.cssText = 'position:absolute;left:' + colLeft[p.col] + 'px;top:' + (rowTop[p.row] - 10) + 'px';
  document.body.appendChild(cv);

  var datasets = p.lines.map(function(l) {
    return {showLine: true, data: [{x: xMin, y: l[0][0]}, {x: xMax, y: l[0][1]}],
            borderColor: l[1], borderWidth: 1.3, pointRadius: 0, order: 0};
  });
  datasets.push({data: toPoints(p.series), backgroundColor: '#ff0000', borderWidth: 0,
                 pointRadius: 3, pointHoverRadius: 3, order: 1});

  new Chart(cv, {
    type: 'scatter',
    data: {datasets: datasets},
    options: {
      responsive: false, animation: false, events: [],
      layout: {padding: {top: 10, bottom: last ? 0 : 10, left: 0, right: 9}},
      plugins: {legend: {display: false}, tooltip: {enabled: false},
                frame: {breakEnds: p.breakEnds, dbl: p.dbl, notes: p.notes, noteX: p.noteX}},
      scales: {
        x: {
          type: 'linear', min: xMin, max: xMax, display: last,
          grid: {display: false, drawTicks: false}, border: {display: false},
          afterBuildTicks: function(s) { s.ticks = yearTicks.map(function(v) { return {value: v}; }); },
          afterFit: last ? function(s) { s.height = 20; } : undefined,
          ticks: {autoSkip: false, maxRotation: 0, padding: 6, color: labelColor,
                  font: {size: 10, weight: 'bold', style: 'italic'},
                  callback: function(v) { return yearLabels[yearTicks.indexOf(v)]; }}
        },
        y: {
          type: 'linear', min: p.range[0], max: p.range[1],
          grid: {display: false, drawTicks: false}, border: {display: false},
          afterFit: function(s) { s.width = 52; },
          afterBuildTicks: function(s) { s.ticks = p.ticks.map(function(v) { return {value: v}; }); },
          ticks: {autoSkip: false, padding: 10, color: labelColor,
                  font: {size: 10.5, weight: 'bold', style: 'italic'},
                  callback: function(v) { return p.labels[v] !== undefined ? p.labels[v] : String(v); }},
          title: {display: true, text: p.title, color: '#111', padding: {top: 8, bottom: 0},
                  font: {family: '"Liberation Serif", "Times New Roman", serif', size: 14.5, weight: 'bold'}}
        }
      }
    },
    plugins: [frame]
  });
}

panels.forEach(build);
</script>
</body>
</html>
